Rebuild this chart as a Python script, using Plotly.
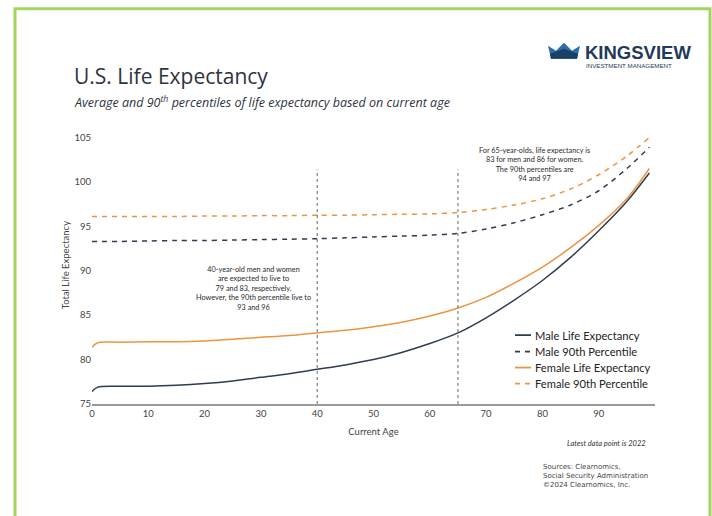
import plotly.graph_objects as go

ages = [0, 1, 5, 10, 15, 20, 25, 30, 35, 40, 45, 50, 55, 60, 65, 70, 75, 80, 85, 90, 95, 99]
male_le = [76.4, 76.9, 77.0, 77.0, 77.1, 77.3, 77.6, 78.0, 78.4, 78.9, 79.4, 80.0, 80.8, 81.8, 83.0, 84.7, 86.7, 88.9, 91.5, 94.5, 97.8, 101.0]
female_le = [81.4, 81.9, 81.95, 82.0, 82.0, 82.1, 82.3, 82.5, 82.7, 83.0, 83.3, 83.7, 84.2, 84.9, 85.8, 87.0, 88.6, 90.4, 92.6, 95.1, 98.1, 101.5]
male_p90 = [93.3, 93.3, 93.3, 93.35, 93.4, 93.4, 93.45, 93.5, 93.55, 93.6, 93.7, 93.8, 93.9, 94.0, 94.2, 94.7, 95.4, 96.3, 97.4, 99.0, 101.5, 103.9]
female_p90 = [96.1, 96.1, 96.1, 96.1, 96.1, 96.15, 96.15, 96.2, 96.2, 96.25, 96.25, 96.3, 96.35, 96.4, 96.55, 96.9, 97.4, 98.1, 99.2, 100.8, 102.9, 105.0]

series_names = ["Male Life Expectancy", "Male 90th Percentile",
                "Female Life Expectancy", "Female 90th Percentile"]
marker_ages = [40, 65]
x_ticks = [0, 10, 20, 30, 40, 50, 60, 70, 80, 90]
y_ticks = [75, 80, 85, 90, 95, 100, 105]

NAVY = "#2f3d52"
ORANGE = "#ec9440"

# plot area in pixels
L, R, T, B = 92, 655, 132.5, 404
W, H = 712, 516


def px(x):
    return (x - L) / (R - L)


def py(y):
    return (B - y) / (B - T)


def pt(x, y):
    return f"{px(x):.5f},{py(y):.5f}"


styles = [(NAVY, None), (NAVY, "5px,5px"), (ORANGE, None), (ORANGE, "5px,5px")]
values = [male_le, male_p90, female_le, female_p90]

fig = go.Figure()
for name, vals, (col, dash) in zip(series_names, values, styles):
    fig.add_trace(go.Scatter(x=ages, y=vals, mode="lines", name=name, showlegend=False,
                             line=dict(color=col, width=1.5, dash=dash, shape="spline", smoothing=0.9)))

shapes = []
for a in marker_ages:
    shapes.append(dict(type="line", xref="x", yref="y", x0=a, x1=a, y0=75, y1=101.4,
                       line=dict(color="#666666", width=1, dash="dot")))
# green frame
shapes.append(dict(type="rect", xref="paper", yref="paper",
                   x0=px(15), x1=px(710), y0=py(8), y1=py(522),
                   line=dict(color="#a3d65e", width=3), layer="below"))
# logo crown
crown = (f"M {pt(548,45)} L {pt(556,50)} L {pt(564,42)} L {pt(572,50)} L {pt(580,45)} "
         f"L {pt(577,58)} L {pt(551,58)} Z")
shapes.append(dict(type="path", xref="paper", yref="paper", path=crown,
                   fillcolor="#2a6fa8", line=dict(width=0)))
wave = f"M {pt(550,53)} L {pt(564,48)} L {pt(578,53)} L {pt(577,58)} L {pt(551,58)} Z"
shapes.append(dict(type="path", xref="paper", yref="paper", path=wave,
                   fillcolor="#1c3f66", line=dict(width=0)))

ann = []
# manual legend
leg_rows = [335, 351.5, 367.5, 383.5]
for name, (col, dash), yy in zip(series_names, styles, leg_rows):
    shapes.append(dict(type="line", xref="paper", yref="paper",
                       x0=px(515), x1=px(531), y0=py(yy), y1=py(yy),
                       line=dict(color=col, width=1.8, dash="5px,5px" if dash else None)))
    ann.append(dict(text=name, xref="paper", yref="paper", x=px(533), y=py(yy),
                    xanchor="left", yanchor="middle", showarrow=False,
                    font=dict(family="Lato", size=11.2, color="#222")))

ann.append(dict(text="U.S. Life Expectancy", xref="paper", yref="paper", x=px(72), y=py(75),
                xanchor="left", yanchor="middle", showarrow=False,
                font=dict(family="Open Sans", size=21, color="#2d3440")))
ann.append(dict(text="<i>Average and 90<sup>th</sup> percentiles of life expectancy based on current age</i>",
                xref="paper", yref="paper", x=px(72), y=py(101), xanchor="left", yanchor="middle",
                showarrow=False, font=dict(family="Open Sans", size=12.5, color="#2d3440")))
ann.append(dict(text="<b>KINGSVIEW</b>", xref="paper", yref="paper", x=px(583), y=py(52),
                xanchor="left", yanchor="middle", showarrow=False,
                font=dict(family="Liberation Sans", size=18.5, color="#1f3a5a")))
ann.append(dict(text="INVESTMENT MANAGEMENT", xref="paper", yref="paper", x=px(584), y=py(64.5),
                xanchor="left", yanchor="middle", showarrow=False,
                font=dict(family="Liberation Sans", size=6.2, color="#1f3a5a")))
ann.append(dict(text="40-year-old men and women<br>are expected to live to<br>79 and 83, respectively.<br>However, the 90th percentile live to<br>93 and 96",
                xref="paper", yref="paper", x=px(253), y=py(288.5), xanchor="center", yanchor="middle",
                align="center", showarrow=False,
                font=dict(family="Lato", size=7.3, color="#2a2a2a")))
ann.append(dict(text="For 65-year-olds, life expectancy is<br>83 for men and 86 for women.<br>The 90th percentiles are<br>94 and 97",
                xref="paper", yref="paper", x=px(534), y=py(164), xanchor="center", yanchor="middle",
                align="center", showarrow=False,
                font=dict(family="Lato", size=7.3, color="#2a2a2a")))
ann.append(dict(text="<i>Latest data point is 2022</i>", xref="paper", yref="paper", x=px(648), y=py(444),
                xanchor="right", yanchor="middle", showarrow=False,
                font=dict(family="Lato", size=7.5, color="#333")))
ann.append(dict(text="Sources: Clearnomics,<br>Social Security Administration<br>©2024 Clearnomics, Inc.",
                xref="paper", yref="paper", x=px(541), y=py(476), xanchor="left", yanchor="middle",
                align="left", showarrow=False,
                font=dict(family="DejaVu Sans", size=7, color="#444")))
ann.append(dict(text="Total Life Expectancy", xref="paper", yref="paper", x=px(65), y=py(265),
                xanchor="center", yanchor="middle", textangle=-90, showarrow=False,
                font=dict(family="Lato", size=9.5, color="#444")))

fig.update_layout(
    width=W, height=H,
    margin=dict(l=L, r=W - R, t=T, b=H - B, pad=0),
    paper_bgcolor="white", plot_bgcolor="white",
    shapes=shapes, annotations=ann, showlegend=False,
    xaxis=dict(range=[0, 100], tickvals=x_ticks, showgrid=False, zeroline=False,
               showline=True, linecolor="#999", linewidth=1.5, ticks="",
               tickfont=dict(family="Lato", size=9.5, color="#444"),
               title=dict(text="Current Age", font=dict(family="Lato", size=9.5, color="#444"), standoff=10)),
    yaxis=dict(range=[75, 105.5], tickvals=y_ticks, showgrid=False, zeroline=False,
               showline=False, ticks="", ticklabelstandoff=0,
               tickfont=dict(family="Lato", size=9.5, color="#444")),
)

fig.write_html("out.html")
